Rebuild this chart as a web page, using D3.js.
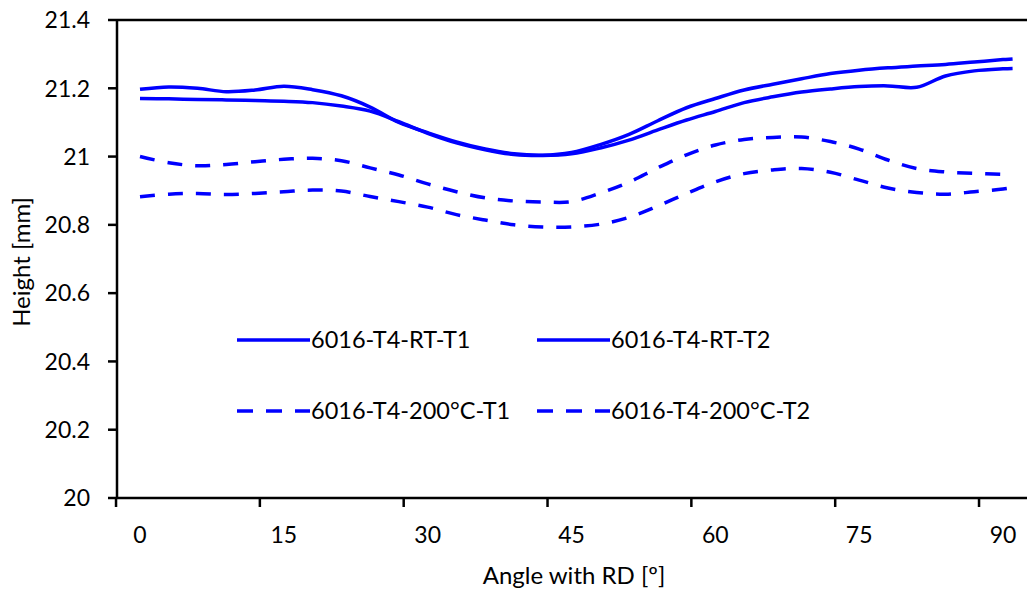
<!DOCTYPE html>
<html>
<head>
<meta charset="utf-8">
<script src="https://cdn.jsdelivr.net/npm/d3@7"></script>
<style>
  body { margin: 0; background: #fff; }
  svg text { font-family: Lato, "Noto Sans", sans-serif; fill: #000; }
</style>
</head>
<body>
<div id="chart"></div>
<script>
// angle with RD (degrees)
const angles = [0, 3, 6, 9, 12, 15, 18, 21, 24, 27, 30, 33, 36, 39, 42, 45,
  48, 51, 54, 57, 60, 63, 66, 69, 72, 75, 78, 81, 84, 87, 90, 91];

const rtT1 = [21.197, 21.204, 21.200, 21.190, 21.195, 21.206, 21.196, 21.178, 21.145, 21.100,
  21.070, 21.043, 21.022, 21.008, 21.004, 21.012, 21.035, 21.065, 21.105, 21.143,
  21.170, 21.195, 21.212, 21.228, 21.243, 21.253, 21.260, 21.265, 21.270, 21.277, 21.284, 21.286];

const rtT2 = [21.170, 21.169, 21.167, 21.166, 21.164, 21.162, 21.158, 21.148, 21.133, 21.102,
  21.068, 21.040, 21.020, 21.006, 21.003, 21.008, 21.025, 21.048, 21.078, 21.107,
  21.132, 21.158, 21.175, 21.189, 21.198, 21.205, 21.207, 21.203, 21.236, 21.251, 21.257, 21.258];

const hotT1 = [21.000, 20.982, 20.973, 20.977, 20.985, 20.992, 20.995, 20.988, 20.967, 20.946,
  20.920, 20.897, 20.879, 20.870, 20.867, 20.868, 20.893, 20.925, 20.967, 21.005,
  21.034, 21.050, 21.056, 21.057, 21.044, 21.022, 20.990, 20.965, 20.955, 20.951, 20.948, null];

const hotT2 = [20.882, 20.890, 20.892, 20.889, 20.892, 20.897, 20.902, 20.899, 20.883, 20.868,
  20.852, 20.830, 20.814, 20.800, 20.794, 20.794, 20.802, 20.822, 20.855, 20.892,
  20.926, 20.950, 20.961, 20.965, 20.954, 20.931, 20.908, 20.895, 20.890, 20.897, 20.905, 20.909];

const seriesNames = ["6016-T4-RT-T1", "6016-T4-RT-T2", "6016-T4-200°C-T1", "6016-T4-200°C-T2"];
const seriesValues = [rtT1, rtT2, hotT1, hotT2];
const seriesDashed = [false, false, true, true];

const xTickLabels = [0, 15, 30, 45, 60, 75, 90];
const xTickMarks = [-2.5, 12.5, 27.5, 42.5, 57.5, 72.5, 87.5];
const yTicks = [20, 20.2, 20.4, 20.6, 20.8, 21, 21.2, 21.4];

const W = 1027, H = 590;
const plotLeft = 117, plotTop = 20, plotBottom = 498, plotRight = 1027;
const blue = "#0000ff";
const dash = "15,13";

const svg = d3.select("#chart").append("svg")
  .attr("width", W)
  .attr("height", H);

const x = d3.scaleLinear().domain([0, 90]).range([140, 1003]);
const y = d3.scaleLinear().domain([20, 21.4]).range([plotBottom, plotTop]);

// frame: top line
svg.append("line")
  .attr("x1", plotLeft).attr("x2", plotRight)
  .attr("y1", plotTop).attr("y2", plotTop)
  .attr("stroke", "#000").attr("stroke-width", 2.5);

// y axis
svg.append("line")
  .attr("x1", plotLeft).attr("x2", plotLeft)
  .attr("y1", plotTop).attr("y2", plotBottom)
  .attr("stroke", "#000").attr("stroke-width", 2.5);

svg.selectAll(".ytick")
  .data(yTicks)
  .enter()
  .append("line")
  .attr("x1", plotLeft - 9).attr("x2", plotLeft)
  .attr("y1", d => y(d)).attr("y2", d => y(d))
  .attr("stroke", "#000").attr("stroke-width", 2.5);

svg.selectAll(".ylabel")
  .data(yTicks)
  .enter()
  .append("text")
  .attr("x", 90)
  .attr("y", d => y(d))
  .attr("dy", "0.36em")
  .attr("text-anchor", "end")
  .style("font-size", "23px")
  .text(d => String(+d.toFixed(1)));

// x axis
svg.append("line")
  .attr("x1", plotLeft).attr("x2", plotRight)
  .attr("y1", plotBottom).attr("y2", plotBottom)
  .attr("stroke", "#000").attr("stroke-width", 2.5);

svg.selectAll(".xtick")
  .data(xTickMarks)
  .enter()
  .append("line")
  .attr("x1", d => x(d)).attr("x2", d => x(d))
  .attr("y1", plotBottom).attr("y2", plotBottom + 9)
  .attr("stroke", "#000").attr("stroke-width", 2.5);

svg.selectAll(".xlabel")
  .data(xTickLabels)
  .enter()
  .append("text")
  .attr("x", d => x(d))
  .attr("y", 543)
  .attr("text-anchor", "middle")
  .style("font-size", "23px")
  .text(d => d);

svg.append("text")
  .attr("x", 574)
  .attr("y", 584)
  .attr("text-anchor", "middle")
  .style("font-size", "24px")
  .text("Angle with RD [º]");

svg.append("text")
  .attr("transform", "translate(30,262) rotate(-90)")
  .attr("text-anchor", "middle")
  .style("font-size", "24px")
  .text("Height [mm]");

// lines
const line = d3.line()
  .defined(d => d[1] != null)
  .x(d => x(d[0]))
  .y(d => y(d[1]))
  .curve(d3.curveCatmullRom.alpha(0.5));

seriesValues.forEach((vals, i) => {
  svg.append("path")
    .datum(angles.map((a, j) => [a, vals[j]]))
    .attr("d", line)
    .attr("fill", "none")
    .attr("stroke", blue)
    .attr("stroke-width", 3.5)
    .attr("stroke-dasharray", seriesDashed[i] ? dash : null);
});

// legend
const legendPos = [[237, 340], [537, 340], [237, 411], [537, 411]];

seriesNames.forEach((name, i) => {
  const g = svg.append("g")
    .attr("transform", `translate(${legendPos[i][0]},${legendPos[i][1]})`);
  g.append("line")
    .attr("x1", 0).attr("x2", 73)
    .attr("y1", 0).attr("y2", 0)
    .attr("stroke", blue)
    .attr("stroke-width", 3.5)
    .attr("stroke-dasharray", seriesDashed[i] ? "16,13" : null);
  g.append("text")
    .attr("x", 74)
    .attr("dy", "0.36em")
    .style("font-size", "23.5px")
    .text(name);
});
</script>
</body>
</html>
